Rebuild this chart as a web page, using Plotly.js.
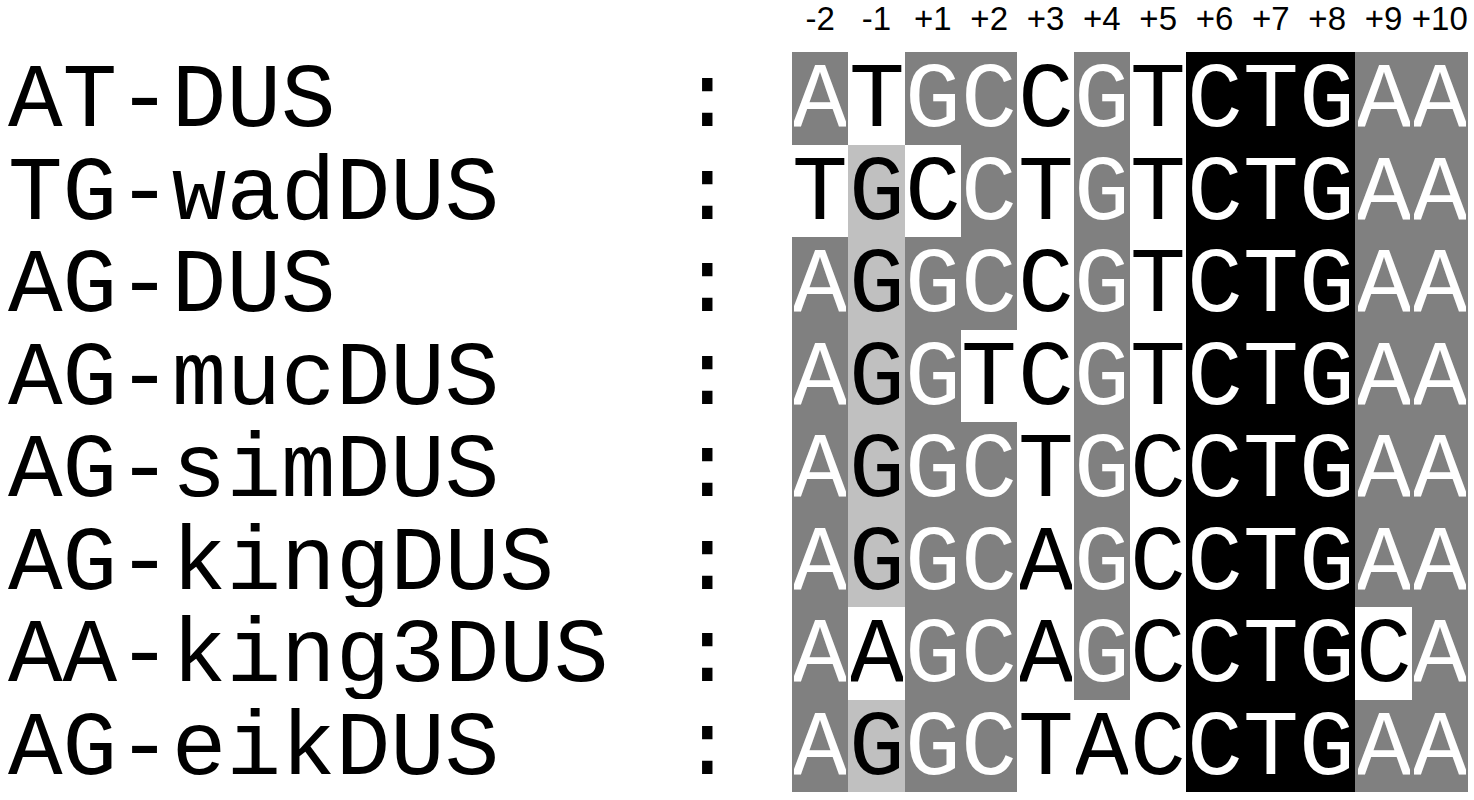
<!DOCTYPE html>
<html>
<head>
<meta charset="utf-8">
<script src="https://cdn.plot.ly/plotly-3.0.1.min.js"></script>
<style>
  html, body { margin: 0; padding: 0; background: #fff; }
  #chart { width: 1474px; height: 800px; }
</style>
</head>
<body>
<div id="chart"></div>
<script>
// alignment data
const positions = ['-2', '-1', '+1', '+2', '+3', '+4', '+5', '+6', '+7', '+8', '+9', '+10'];
const names = ['AT-DUS', 'TG-wadDUS', 'AG-DUS', 'AG-mucDUS', 'AG-simDUS', 'AG-kingDUS', 'AA-king3DUS', 'AG-eikDUS'];
const sequences = [
    'ATGCCGTCTGAA',
    'TGCCTGTCTGAA',
    'AGGCCGTCTGAA',
    'AGGTCGTCTGAA',
    'AGGCTGCCTGAA',
    'AGGCAGCCTGAA',
    'AAGCAGCCTGCA',
    'AGGCTACCTGAA'
];
// shading level per cell: 0 white, 1 light grey, 2 grey, 3 black
const shading = [
    [2, 0, 2, 2, 0, 2, 0, 3, 3, 3, 2, 2],
    [0, 1, 0, 2, 0, 2, 0, 3, 3, 3, 2, 2],
    [2, 1, 2, 2, 0, 2, 0, 3, 3, 3, 2, 2],
    [2, 1, 2, 0, 0, 2, 0, 3, 3, 3, 2, 2],
    [2, 1, 2, 2, 0, 2, 0, 3, 3, 3, 2, 2],
    [2, 1, 2, 2, 0, 2, 0, 3, 3, 3, 2, 2],
    [2, 0, 2, 2, 0, 2, 0, 3, 3, 3, 0, 2],
    [2, 1, 2, 2, 0, 0, 0, 3, 3, 3, 2, 2]
];

const shadeColors = ['#FFFFFF', '#C0C0C0', '#808080', '#000000'];
const letterColors = ['#000000', '#000000', '#FFFFFF', '#FFFFFF'];
const mono = 'Liberation Mono, Courier New, monospace';

// layout geometry (pixels)
const W = 1474, H = 800;
const gridLeft = 792, gridRight = 1468, gridTop = 52, gridBottom = 792;
const colW = (gridRight - gridLeft) / positions.length;

const annotations = [];

names.forEach((name, r) => {
    annotations.push({
        xref: 'paper', yref: 'y', x: 6 / W, y: r, xanchor: 'left', yanchor: 'middle',
        text: name, showarrow: false, yshift: -3, height: 86,
        font: { family: mono, size: 91, color: '#000' }
    });
    annotations.push({
        xref: 'paper', yref: 'y', x: 707 / W, y: r, xanchor: 'center', yanchor: 'middle',
        text: ':', showarrow: false, yshift: -3, height: 86,
        font: { family: mono, size: 91, color: '#000' }
    });
    // letters placed by category index (labels like "+1" would be read as numbers)
    sequences[r].split('').forEach((ch, c) => {
        annotations.push({
            x: c, y: r, text: ch, showarrow: false, yshift: -3,
            width: 52, height: 86,
            xanchor: 'center', yanchor: 'middle',
            font: { family: mono, size: 93, color: letterColors[shading[r][c]] }
        });
    });
});

const trace = {
    type: 'heatmap',
    x: positions,
    y: names,
    z: shading,
    zmin: -0.5, zmax: 3.5,
    colorscale: [
        [0, shadeColors[0]], [0.25, shadeColors[0]],
        [0.25, shadeColors[1]], [0.5, shadeColors[1]],
        [0.5, shadeColors[2]], [0.75, shadeColors[2]],
        [0.75, shadeColors[3]], [1, shadeColors[3]]
    ],
    showscale: false,
    hoverinfo: 'skip'
};

const layout = {
    width: W, height: H,
    margin: { l: 0, r: 0, t: gridTop, b: H - gridBottom },
    paper_bgcolor: '#fff', plot_bgcolor: '#fff',
    xaxis: {
        type: 'category', side: 'top',
        range: [-0.5 - gridLeft / colW, positions.length - 0.5 + (W - gridRight) / colW],
        showgrid: false, zeroline: false, showline: false,
        ticks: 'outside', ticklen: 8, tickcolor: 'rgba(0,0,0,0)',
        tickfont: { family: 'Liberation Sans, Arial, sans-serif', size: 33, color: '#000' },
        fixedrange: true
    },
    yaxis: {
        type: 'category',
        range: [names.length - 0.5, -0.5],
        showgrid: false, zeroline: false, showline: false, showticklabels: false,
        fixedrange: true
    },
    annotations: annotations,
    showlegend: false
};

Plotly.newPlot('chart', [trace], layout, { displayModeBar: false, staticPlot: true });
</script>
</body>
</html>
